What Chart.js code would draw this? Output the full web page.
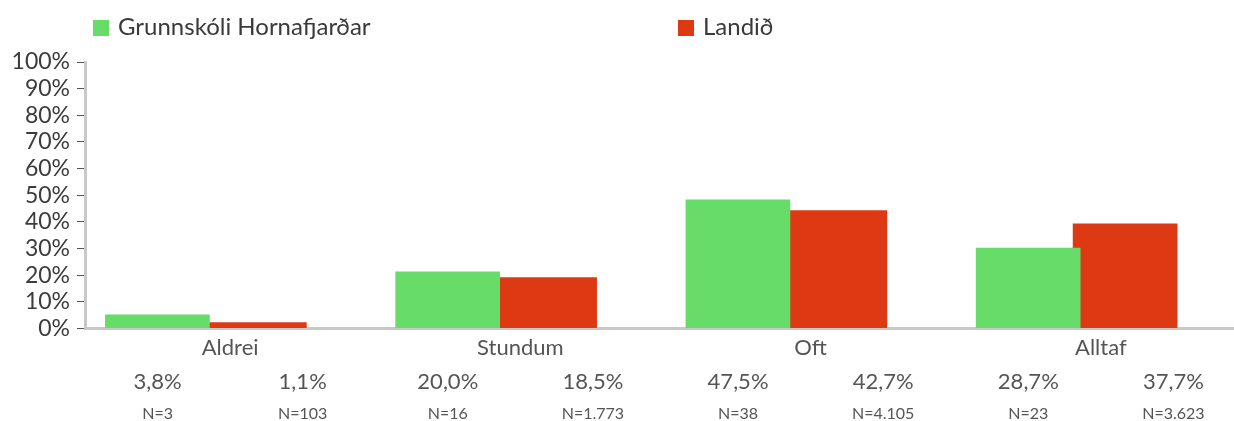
<!DOCTYPE html>
<html>
<head>
<meta charset="utf-8">
<script src="https://cdn.jsdelivr.net/npm/chart.js@4.4.1/dist/chart.umd.min.js"></script>
<style>
    body { margin: 0; overflow: hidden; background: #fff; }
    #wrap { position: relative; width: 1250px; height: 421px; }
    .leg { position: absolute; top: 11px; font-family: Lato, sans-serif; font-size: 24px; line-height: 30px; color: #3a3a3a; white-space: nowrap; }
    .leg span { display: inline-block; width: 16px; height: 16px; margin-right: 9px; vertical-align: -1px; }
</style>
</head>
<body>
<div id="wrap">
    <div class="leg" id="leg0" style="left:93px"></div>
    <div class="leg" id="leg1" style="left:678px"></div>
    <canvas id="myChart"></canvas>
</div>
<script>
// data
var categories = ["Aldrei", "Stundum", "Oft", "Alltaf"];
var seriesNames = ["Grunnskóli Hornafjarðar", "Landið"];
var seriesColors = ["#67dc68", "#dd3a14"];
var skoliValues = [5.3, 21.4, 48.4, 30.3];
var landidValues = [2.4, 19.3, 44.4, 39.4];
var pctLabels = ["3,8%", "1,1%", "20,0%", "18,5%", "47,5%", "42,7%", "28,7%", "37,7%"];
var nLabels = ["N=3", "N=103", "N=16", "N=1.773", "N=38", "N=4.105", "N=23", "N=3.623"];

var fontName = "Lato, sans-serif";

// html legend, two items far apart like the original
for (var i = 0; i < seriesNames.length; i++) {
    document.getElementById("leg" + i).innerHTML =
        '<span style="background:' + seriesColors[i] + '"></span>' + seriesNames[i];
}

var empty = categories.map(function () { return null; }); // spacer slots push the pair left

function bars(label, values, color) {
    return {
        label: label,
        data: values,
        backgroundColor: color,
        categoryPercentage: 0.668,
        barPercentage: 2.16
    };
}

// label rows under the bars; tickLength only adds room above (grid is hidden)
function rowAxis(labels, weight, size, lh, pad, room) {
    return {
        type: "category",
        position: "bottom",
        weight: weight,
        labels: labels,
        offset: true,
        grid: { display: false, tickLength: room },
        border: { display: false },
        ticks: { padding: pad, autoSkip: false, maxRotation: 0, color: "#555", font: { family: fontName, size: size, lineHeight: lh } }
    };
}

new Chart(document.getElementById("myChart"), {
    type: "bar",
    data: {
        labels: categories,
        datasets: [
            bars(seriesNames[0], skoliValues, seriesColors[0]),
            bars("spacer1", empty, "transparent"),
            bars(seriesNames[1], landidValues, seriesColors[1]),
            bars("spacer2", empty, "transparent")
        ]
    },
    options: {
        responsive: true,
        maintainAspectRatio: false,
        animation: false,
        layout: { padding: { top: 62, left: 0, right: 4, bottom: 0 } },
        plugins: { legend: { display: false }, tooltip: { enabled: false } },
        scales: {
            y: {
                min: 0,
                max: 100,
                ticks: {
                    stepSize: 10,
                    autoSkip: false,
                    padding: 7,
                    color: "#3c3c3c",
                    font: { family: fontName, size: 23 },
                    callback: function (v) { return v + "%"; }
                },
                grid: { drawOnChartArea: false, tickLength: 8, color: "#555" },
                border: { color: "#c9c9c9", width: 3 },
                afterFit: function (s) { s.width = 85; }
            },
            x: {
                weight: 0,
                grid: { display: false, tickLength: 6 },
                border: { color: "#c9c9c9", width: 3 },
                ticks: { padding: 2, color: "#555", font: { family: fontName, size: 22, lineHeight: 1 }, maxRotation: 0 }
            },
            xPct: rowAxis(pctLabels, 1, 22, 1, 2, 8),
            xN: rowAxis(nLabels, 2, 16, 0.8, 1, 11.6)
        }
    }
});
</script>
</body>
</html>
